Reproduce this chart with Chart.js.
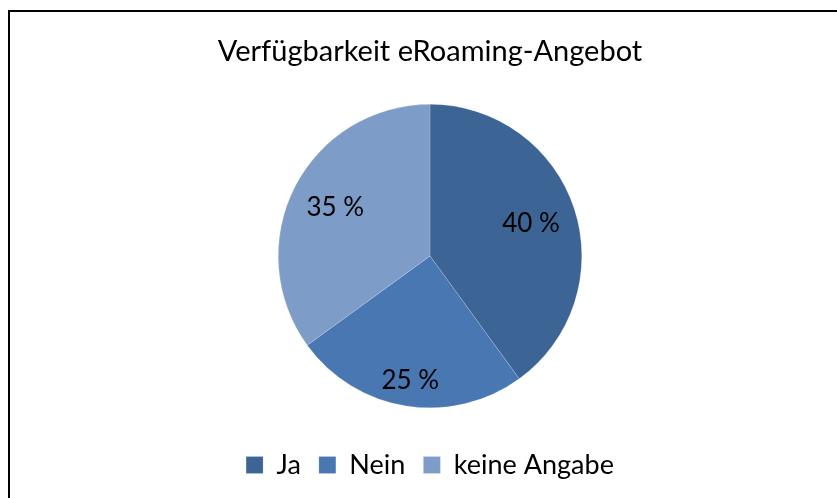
<!DOCTYPE html>
<html lang="de">
<head>
  <meta charset="UTF-8">
  <title>Verfügbarkeit eRoaming-Angebot</title>
  <script src="https://cdn.jsdelivr.net/npm/chart.js"></script>
  <style>
    body {
      margin: 0;
      background: #fff;
    }
    #frame {
      position: absolute;
      left: 8px;
      top: 10px;
      width: 900px;
      height: 600px;
      border-top: 2px solid #000;
      border-left: 2px solid #000;
    }
    #grafico {
      position: absolute;
      left: 0;
      top: 0;
    }
  </style>
</head>
<body>
  <div id="frame"></div>
  <canvas id="grafico" width="837" height="498"></canvas>

  <script>
    const titel = "Verfügbarkeit eRoaming-Angebot";
    const kategorien = ["Ja", "Nein", "keine Angabe"];
    const anteile = [40, 25, 35];

    const farben = ["#3c6595", "#4877b1", "#7e9cc8"];
    // Abstand der Beschriftung vom Mittelpunkt (Anteil am Radius)
    const labelRadius = [0.70, 0.83, 0.70];
    const schrift = "Lato, 'Noto Sans', sans-serif";

    const prozentLabels = {
      id: "prozentLabels",
      afterDatasetsDraw(chart) {
        const ctx = chart.ctx;
        const meta = chart.getDatasetMeta(0);
        ctx.save();
        ctx.font = "26px " + schrift;
        ctx.fillStyle = "#000";
        ctx.textAlign = "center";
        ctx.textBaseline = "middle";
        meta.data.forEach((arc, i) => {
          const p = arc.getProps(["x", "y", "startAngle", "endAngle", "outerRadius"], true);
          const mitte = (p.startAngle + p.endAngle) / 2;
          const r = p.outerRadius * labelRadius[i];
          ctx.fillText(anteile[i] + " %", p.x + Math.cos(mitte) * r, p.y + Math.sin(mitte) * r);
        });
        ctx.restore();
      }
    };

    const ctx = document.getElementById("grafico").getContext("2d");
    const chart = new Chart(ctx, {
      type: "pie",
      data: {
        labels: kategorien,
        datasets: [{
          data: anteile,
          backgroundColor: farben,
          borderColor: "rgba(255,255,255,0.35)",
          borderWidth: 0.5
        }]
      },
      options: {
        responsive: false,
        animation: false,
        layout: { padding: { left: 23, top: 0, bottom: 9.5 } },
        plugins: {
          title: {
            display: true,
            text: titel,
            color: "#000",
            font: { family: schrift, size: 29, weight: "normal" },
            padding: { top: 34.6, bottom: 34.6 }
          },
          legend: {
            position: "bottom",
            title: { display: true, text: "", font: { size: 1 }, padding: { top: 24.3, bottom: 0 } },
            labels: {
              color: "#000",
              boxWidth: 17,
              boxHeight: 17,
              padding: 18,
              font: { family: schrift, size: 27 }
            }
          },
          tooltip: { enabled: false }
        }
      },
      plugins: [prozentLabels]
    });
  </script>
</body>
</html>
